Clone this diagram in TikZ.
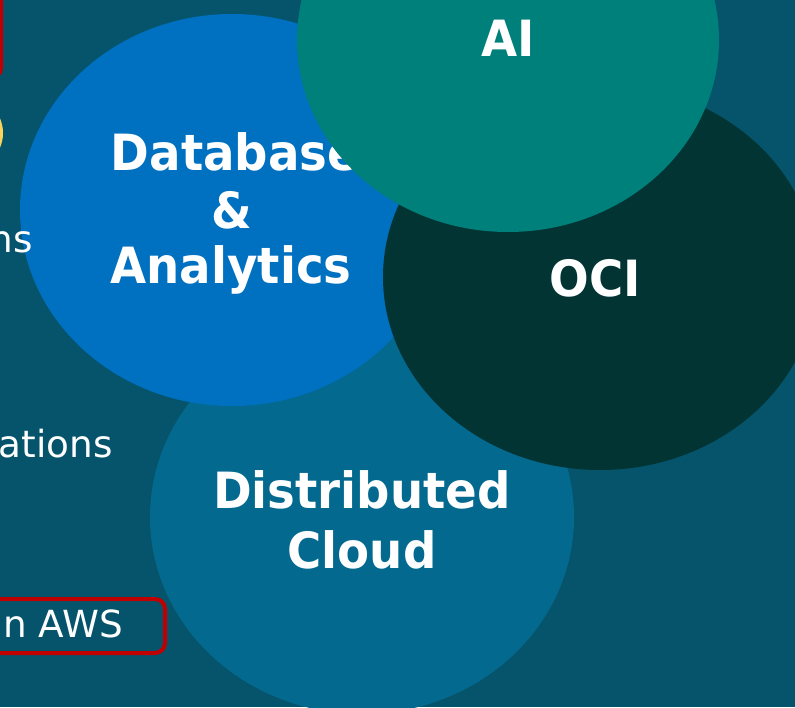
\documentclass[tikz,border=0pt]{standalone}
\usepackage{fontspec}
\setmainfont{DejaVu Sans}
\definecolor{bgc}{HTML}{05546B}
\definecolor{dbblue}{HTML}{0070C0}
\definecolor{distc}{HTML}{03698F}
\definecolor{ocic}{HTML}{023434}
\definecolor{aic}{HTML}{00807A}
\definecolor{redc}{HTML}{C00000}
\definecolor{yelc}{HTML}{F9D45C}
\newcommand{\tallbf}[1]{\scalebox{1}[1.07]{#1}}
\tikzset{
  bigtxt/.style={text=white, font=\fontsize{35}{40}\selectfont\bfseries, anchor=base, inner sep=0pt},
  sidetxt/.style={text=white, font=\fontsize{28}{32}\selectfont, anchor=base east, inner sep=0pt},
}
\begin{document}
\begin{tikzpicture}[x=0.75pt,y=-0.75pt]
\useasboundingbox (0,0) rectangle (795,707);
\clip (0,0) rectangle (795,707);
\fill[bgc] (0,0) rectangle (795,707);
% partial shapes at left edge
\draw[redc, line width=3pt, rounded corners=7.5pt] (-200,-60) rectangle (1,78);
\fill[yelc] (-40,133) ellipse [x radius=43, y radius=40];
% Distributed Cloud
\fill[distc] (362,517) ellipse [x radius=212, y radius=197];
\node[bigtxt] (dc1) at (362,508) {\tallbf{Distributed}};
\node[bigtxt] (dc2) at (362,568) {\tallbf{Cloud}};
% Database & Analytics
\fill[dbblue] (232,210) ellipse [x radius=212, y radius=196];
\node[bigtxt] (db1) at (235,170) {\tallbf{Database}};
\node[bigtxt] (db2) at (232,228) {\tallbf{\&}};
\node[bigtxt] (db3) at (231,283) {\tallbf{Analytics}};
% OCI
\fill[ocic] (600,277) ellipse [x radius=217, y radius=193];
\node[bigtxt] (oci) at (595,296) {\tallbf{OCI}};
% AI
\fill[aic] (508,40) ellipse [x radius=211, y radius=192];
\node[bigtxt] (ai) at (508,56) {\tallbf{AI}};
% left side texts
\node[sidetxt] (t1) at (33,252) {ns};
\node[sidetxt] (t2) at (113,457) {ations};
\node[sidetxt] (t3) at (123,637) {n AWS};
\draw[redc, line width=3pt, rounded corners=7.5pt] (-20,599) rectangle (165,653);
\end{tikzpicture}
\end{document}
